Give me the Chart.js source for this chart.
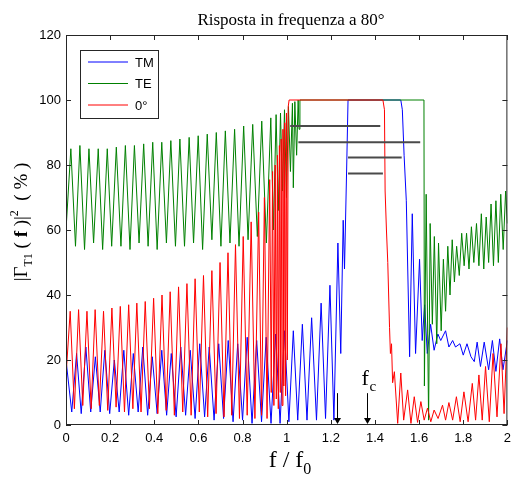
<!DOCTYPE html>
<html>
<head>
<meta charset="utf-8">
<script src="https://cdn.jsdelivr.net/npm/chart.js@4/dist/chart.umd.min.js"></script>
<style>
  html, body { margin: 0; padding: 0; background: #fff; }
</style>
</head>
<body>
<canvas id="chart" width="517" height="477"></canvas>
<script>
// values: [f/f0, |Gamma|^2 %]
const tmCurve = [
  [0,20],[0.026,4],[0.048,22],[0.069,3.5],[0.090,24],[0.112,4],[0.133,21],[0.155,4],[0.176,23],[0.198,3.5],
  [0.219,20],[0.241,4],[0.262,23],[0.284,3],[0.305,22],[0.327,4],[0.348,24],[0.370,3],[0.391,21],[0.413,3.5],
  [0.434,23],[0.456,3],[0.477,22],[0.499,2.5],[0.520,24],[0.542,3],[0.563,23],[0.585,2],[0.606,25],[0.628,2.5],
  [0.649,24],[0.671,1.5],[0.692,25],[0.714,2],[0.735,26],[0.757,1],[0.778,25],[0.800,1.5],[0.821,27],[0.843,0.5],
  [0.864,26],[0.886,1],[0.907,27],[0.929,0.5],[0.950,28],[0.970,0.5],[0.990,29],[1.010,1],[1.030,29],[1.050,1.5],
  [1.071,31],[1.092,1.5],[1.113,33],[1.135,1.5],[1.156,37.5],[1.176,2],[1.196,43],[1.214,1.5],[1.232,56],[1.245,22],
  [1.256,63],[1.262,48],[1.272,80],[1.278,100],[1.517,100],[1.524,97],[1.532,83],[1.542,69],[1.551,40],[1.557,21],
  [1.569,65],[1.584,22],[1.602,51],[1.614,26],[1.625,37],[1.637,22],[1.652,31],[1.668,23],[1.685,28],[1.698,26],
  [1.720,29],[1.735,24],[1.752,26],[1.765,24],[1.785,25],[1.800,21.5],[1.817,25],[1.835,21],[1.850,19.5],[1.863,25.5],
  [1.878,18],[1.895,25.5],[1.915,17],[1.932,26],[1.948,16.5],[1.965,26.5],[1.980,17],[2.0,26]
];

const teCurve = [
  [0,60],[0.022,85],[0.043,55],[0.063,86],[0.084,54],[0.104,85],[0.125,56],[0.146,85],[0.166,54],[0.187,85],
  [0.207,55],[0.228,85.5],[0.249,55],[0.269,86],[0.290,54],[0.310,86],[0.331,56],[0.352,86.5],[0.372,55],[0.393,87],
  [0.413,54],[0.434,87],[0.455,56],[0.475,87.5],[0.496,55],[0.516,88],[0.537,55],[0.558,88.5],[0.578,56],[0.599,89],
  [0.619,54],[0.640,89.5],[0.661,57],[0.681,90],[0.702,55],[0.722,90.5],[0.743,56],[0.764,91],[0.784,55],[0.805,92],
  [0.825,57],[0.846,92.5],[0.867,58],[0.887,93.5],[0.908,56],[0.928,94.5],[0.940,60],[0.952,95.5],[0.962,66],[0.972,96],
  [0.981,72],[0.990,97],[0.999,70],[1.008,98],[1.017,78],[1.026,99],[1.030,73],[1.037,99.5],[1.045,83],[1.052,100],
  [1.056,91],[1.060,100],[1.622,100],[1.624,12],[1.632,71],[1.643,1.5],[1.650,62],[1.660,31],[1.669,58],[1.680,25],
  [1.688,56],[1.700,29],[1.710,51],[1.720,35],[1.730,55],[1.740,40],[1.750,57],[1.760,44],[1.770,55],[1.782,46],
  [1.793,59],[1.804,49],[1.815,59],[1.826,48],[1.837,61],[1.848,50],[1.860,62],[1.871,49],[1.882,65],[1.893,48],
  [1.904,64],[1.915,50],[1.926,68],[1.937,49],[1.948,69],[1.959,50],[1.970,71],[1.981,54],[1.992,72],[2.0,62]
];

const zeroCurve = [
  [0,15],[0.019,35],[0.038,5],[0.057,35.5],[0.076,6],[0.095,35],[0.114,5],[0.132,35.5],[0.151,6],[0.170,35],
  [0.189,4.5],[0.208,36],[0.227,5.5],[0.246,36.5],[0.265,4],[0.284,37],[0.303,5],[0.321,37.5],[0.340,4],[0.359,38],
  [0.378,5],[0.397,39],[0.416,3.5],[0.435,40],[0.454,4.5],[0.472,41],[0.491,3],[0.510,42.5],[0.529,4],[0.548,43.5],
  [0.567,3],[0.585,45],[0.604,4],[0.623,46],[0.642,2.5],[0.661,47.5],[0.680,3.5],[0.698,50],[0.716,2.5],[0.734,53],
  [0.751,3],[0.768,55.5],[0.786,2],[0.803,58],[0.821,3],[0.839,62.5],[0.856,2],[0.873,65.5],[0.886,3],[0.899,70],
  [0.911,2],[0.923,75.5],[0.930,10],[0.936,78],[0.942,6],[0.948,80],[0.953,8],[0.958,83],[0.962,5],[0.967,86],
  [0.971,10],[0.975,88],[0.979,6],[0.983,91],[0.987,12],[0.991,93],[0.995,9],[0.999,96],[1.003,20],[1.007,98],
  [1.011,100],[1.436,100],[1.443,97],[1.446,72],[1.452,60],[1.458,50],[1.462,40],[1.466,30],[1.470,22],[1.475,25],
  [1.480,13],[1.488,16.4],[1.503,0.5],[1.517,16],[1.530,1.5],[1.548,10.8],[1.563,0.5],[1.578,8.7],[1.593,0.8],[1.608,7.2],
  [1.623,1.5],[1.638,5.2],[1.653,1],[1.668,4.6],[1.686,2],[1.706,6.1],[1.720,1.5],[1.735,6.9],[1.752,1.5],[1.769,8.7],
  [1.786,1],[1.803,10.2],[1.822,1],[1.841,12.8],[1.856,1.5],[1.871,15.4],[1.886,1.5],[1.901,18],[1.918,1],[1.935,22],
  [1.953,2.5],[1.971,25],[1.985,3.5],[2.0,30]
];

// grey level markers: [from, to, level]
const levelLines = [[1.016, 1.424, 92], [1.053, 1.605, 87], [1.278, 1.521, 82.3], [1.278, 1.436, 77.4]];
// arrows on the frequency axis
const arrowX = [1.23, 1.362];
const arrowTop = 9.8;
const fcX = 1.362;

const xTicks = [0, 0.2, 0.4, 0.6, 0.8, 1, 1.2, 1.4, 1.6, 1.8, 2];
const yTicks = [0, 20, 40, 60, 80, 100, 120];

const seriesNames = ['TM', 'TE', '0°'];
const seriesColors = ['#0000ff', '#008000', '#ff0000'];

const toPts = arr => arr.map(p => ({ x: p[0], y: p[1] }));

const datasets = [
  { label: seriesNames[0], data: toPts(tmCurve), borderColor: seriesColors[0], order: 3 },
  { label: seriesNames[1], data: toPts(teCurve), borderColor: seriesColors[1], order: 2 },
  { label: seriesNames[2], data: toPts(zeroCurve), borderColor: seriesColors[2], order: 1 }
];
levelLines.forEach(l => {
  datasets.push({
    label: '', data: [{ x: l[0], y: l[2] }, { x: l[1], y: l[2] }],
    borderColor: '#4a4a4a', borderWidth: 2, order: 0
  });
});
datasets.forEach(d => {
  d.pointRadius = 0;
  d.fill = false;
  d.tension = 0;
  if (!d.borderWidth) d.borderWidth = 1;
});

const serif = '"Liberation Serif", "Times New Roman", serif';
const sans = '"Liberation Sans", Arial, sans-serif';

const decor = {
  id: 'decor',
  afterDatasetsDraw(chart) {
    const ctx = chart.ctx, x = chart.scales.x, y = chart.scales.y;
    ctx.save();
    ctx.strokeStyle = '#000';
    ctx.fillStyle = '#000';
    ctx.lineWidth = 1;
    arrowX.forEach(v => {
      const px = Math.round(x.getPixelForValue(v)) + 0.5;
      const top = y.getPixelForValue(arrowTop), bot = y.getPixelForValue(0);
      ctx.beginPath();
      ctx.moveTo(px, top);
      ctx.lineTo(px, bot - 6);
      ctx.stroke();
      ctx.beginPath();
      ctx.moveTo(px - 3.5, bot - 7);
      ctx.lineTo(px + 3.5, bot - 7);
      ctx.lineTo(px, bot - 1);
      ctx.closePath();
      ctx.fill();
    });
    // f_c label
    const fx = x.getPixelForValue(fcX);
    ctx.textBaseline = 'alphabetic';
    ctx.textAlign = 'left';
    ctx.font = '22px ' + serif;
    ctx.fillText('f', fx - 5, y.getPixelForValue(12.2));
    ctx.font = '15px ' + serif;
    ctx.fillText('c', fx + 3, y.getPixelForValue(10.5));
    ctx.restore();
  },
  afterDraw(chart) {
    const ctx = chart.ctx, a = chart.chartArea, x = chart.scales.x, y = chart.scales.y;
    ctx.save();
    // axes box
    ctx.strokeStyle = '#262626';
    ctx.lineWidth = 1;
    ctx.strokeRect(a.left + 0.5, a.top + 0.5, a.right - a.left - 1, a.bottom - a.top - 1);
    // inward ticks
    ctx.beginPath();
    xTicks.forEach(v => {
      const px = Math.round(x.getPixelForValue(v)) + 0.5;
      ctx.moveTo(px, a.bottom); ctx.lineTo(px, a.bottom - 5);
      ctx.moveTo(px, a.top); ctx.lineTo(px, a.top + 5);
    });
    yTicks.forEach(v => {
      const py = Math.round(y.getPixelForValue(v)) + 0.5;
      ctx.moveTo(a.left, py); ctx.lineTo(a.left + 5, py);
      ctx.moveTo(a.right, py); ctx.lineTo(a.right - 5, py);
    });
    ctx.stroke();

    // legend
    const lx = 80.5, ly = 50.5, lw = 78, lh = 68;
    ctx.fillStyle = '#fff';
    ctx.fillRect(lx, ly, lw, lh);
    ctx.strokeStyle = '#262626';
    ctx.strokeRect(lx, ly, lw, lh);
    ctx.font = '13px ' + sans;
    ctx.textBaseline = 'middle';
    ctx.textAlign = 'left';
    seriesNames.forEach((n, i) => {
      const yy = 62 + i * 21.5;
      ctx.strokeStyle = seriesColors[i];
      ctx.beginPath();
      ctx.moveTo(88, yy); ctx.lineTo(128, yy);
      ctx.stroke();
      ctx.fillStyle = '#000';
      ctx.fillText(n, 135, yy + 1);
    });

    // title
    ctx.fillStyle = '#000';
    ctx.font = '17px ' + serif;
    ctx.textAlign = 'center';
    ctx.textBaseline = 'alphabetic';
    ctx.fillText('Risposta in frequenza a 80°', 291, 25);

    // x label: f / f0
    ctx.textAlign = 'left';
    ctx.font = '24px ' + serif;
    const main = 'f / f';
    const mw = ctx.measureText(main).width;
    ctx.font = '16px ' + serif;
    const sw = ctx.measureText('0').width;
    const sx = 290 - (mw + sw) / 2;
    ctx.font = '24px ' + serif;
    ctx.fillText(main, sx, 467);
    ctx.font = '16px ' + serif;
    ctx.fillText('0', sx + mw, 474);

    // y label, rotated
    ctx.translate(27, 222);
    ctx.rotate(-Math.PI / 2);
    const parts = [
      ['|Γ', '19px ' + serif, 0],
      ['T1', '12px ' + serif, 5],
      [' ( ', '19px ' + serif, 0],
      ['f', 'bold 19px ' + serif, 0],
      [' )|', '19px ' + serif, 0],
      ['2', '12px ' + serif, -9],
      ['  ( % )', '19px ' + serif, 0]
    ];
    let total = 0;
    parts.forEach(p => { ctx.font = p[1]; total += ctx.measureText(p[0]).width; });
    let cx = -total / 2;
    parts.forEach(p => {
      ctx.font = p[1];
      ctx.fillText(p[0], cx, p[2]);
      cx += ctx.measureText(p[0]).width;
    });
    ctx.restore();
  }
};

new Chart(document.getElementById('chart'), {
  type: 'line',
  data: { datasets: datasets },
  options: {
    responsive: false,
    animation: false,
    devicePixelRatio: 1,
    layout: { padding: { top: 35, right: 6, left: 0, bottom: 0 } },
    plugins: { legend: { display: false }, tooltip: { enabled: false }, title: { display: false } },
    scales: {
      x: {
        type: 'linear', min: 0, max: 2,
        afterFit: s => { s.height = 52; },
        grid: { display: false, drawTicks: false },
        border: { display: false },
        afterBuildTicks: s => { s.ticks = xTicks.map(v => ({ value: v })); },
        ticks: {
          padding: 6, color: '#000', maxRotation: 0, autoSkip: false,
          font: { family: sans, size: 13 },
          callback: v => String(+v.toFixed(1))
        }
      },
      y: {
        type: 'linear', min: 0, max: 120,
        afterFit: s => { s.width = 66; },
        grid: { display: false, drawTicks: false },
        border: { display: false },
        afterBuildTicks: s => { s.ticks = yTicks.map(v => ({ value: v })); },
        ticks: {
          padding: 5, color: '#000',
          font: { family: sans, size: 13 },
          callback: v => String(v)
        }
      }
    }
  },
  plugins: [decor]
});
</script>
</body>
</html>
